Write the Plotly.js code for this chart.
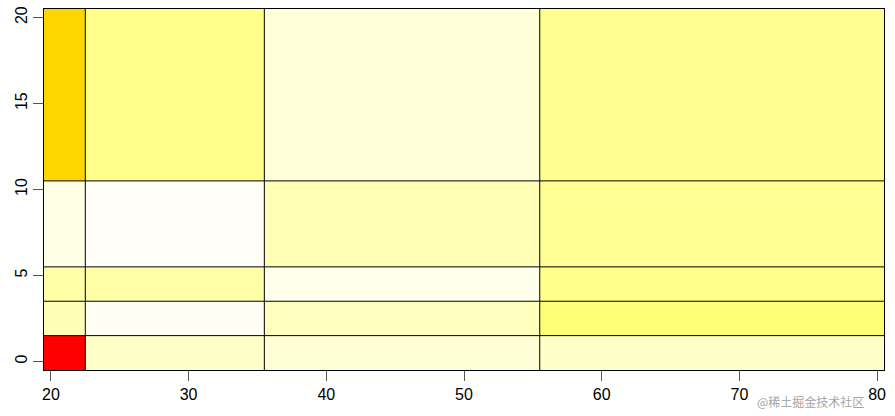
<!DOCTYPE html>
<html>
<head>
<meta charset="utf-8">
<script src="https://cdn.plot.ly/plotly-3.0.1.min.js"></script>
<style>html,body{margin:0;padding:0;background:#fff;}#chart{width:895px;height:416px;}</style>
</head>
<body>
<div id="chart"></div>
<script>
// Cell boundaries (bricks) along x and y
const xEdges = [19.5, 22.5, 35.5, 55.5, 80.5];
const yEdges = [-0.5, 1.5, 3.5, 5.5, 10.5, 20.5];
// Cell values (rows bottom -> top, columns left -> right), heat-colour scale 0..100
const row1 = [0, 94.6, 95.9, 94.6];
const row2 = [93.0, 99.0, 93.6, 86.5];
const row3 = [91.5, 91.5, 98.0, 88.5];
const row4 = [97.5, 99.3, 92.7, 89.6];
const row5 = [63.2, 88.5, 96.2, 89.1];
const xTicks = [20, 30, 40, 50, 60, 70, 80];
const yTicks = [0, 5, 10, 15, 20];
const watermark = "@稀土掘金技术社区";

const z = [row1, row2, row3, row4, row5];

const trace = {
  type: 'heatmap',
  x: xEdges,
  y: yEdges,
  z: z,
  zmin: 0,
  zmax: 100,
  colorscale: [[0, '#FF0000'], [0.75, '#FFFF00'], [1, '#FFFFFF']],
  showscale: false,
  hoverinfo: 'x+y+z'
};

const shapes = [];
xEdges.slice(1, -1).forEach(v => shapes.push({
  type: 'line', xref: 'x', yref: 'paper', x0: v, x1: v, y0: 0, y1: 1,
  line: {color: '#000', width: 1}
}));
yEdges.slice(1, -1).forEach(v => shapes.push({
  type: 'line', xref: 'paper', yref: 'y', x0: 0, x1: 1, y0: v, y1: v,
  line: {color: '#000', width: 1}
}));

const layout = {
  width: 895,
  height: 416,
  margin: {l: 44, r: 11, t: 9, b: 46},
  paper_bgcolor: '#fff',
  plot_bgcolor: '#fff',
  font: {family: 'Liberation Sans, Arial, sans-serif', size: 16, color: '#000'},
  xaxis: {
    range: [xEdges[0], xEdges[xEdges.length - 1]],
    tickvals: xTicks,
    ticktext: xTicks.map(String),
    ticks: 'outside', ticklen: 10, tickwidth: 1, tickcolor: '#555',
    showgrid: false, zeroline: false,
    showline: true, mirror: true, linecolor: '#000', linewidth: 1
  },
  yaxis: {
    range: [yEdges[0], yEdges[yEdges.length - 1]],
    tickvals: yTicks,
    ticktext: yTicks.map(String),
    tickangle: -90,
    ticks: 'outside', ticklen: 10, tickwidth: 1, tickcolor: '#555',
    showgrid: false, zeroline: false,
    showline: true, mirror: true, linecolor: '#000', linewidth: 1
  },
  shapes: shapes,
  annotations: [{
    text: watermark, xref: 'paper', yref: 'paper',
    x: 0.978, y: 0, xanchor: 'right', yanchor: 'top', yshift: -21,
    showarrow: false,
    font: {family: 'Noto Sans CJK SC, sans-serif', size: 12, color: 'rgba(130,130,130,0.75)'}
  }]
};

Plotly.newPlot('chart', [trace], layout, {displayModeBar: false, staticPlot: true});
</script>
</body>
</html>
